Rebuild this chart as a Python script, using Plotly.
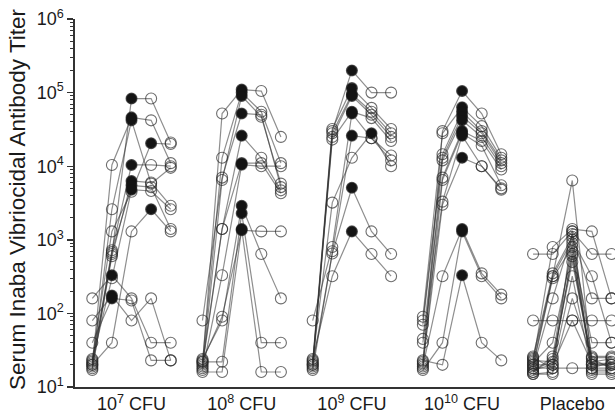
import plotly.graph_objects as go

# ---- data ----
group_labels = ["10<sup>7</sup> CFU", "10<sup>8</sup> CFU", "10<sup>9</sup> CFU",
                "10<sup>10</sup> CFU", "Placebo"]
ytick_vals = [10, 100, 1000, 10000, 100000, 1000000]
ytick_text = ["10<sup>1</sup>", "10<sup>2</sup>", "10<sup>3</sup>",
              "10<sup>4</sup>", "10<sup>5</sup>", "10<sup>6</sup>"]
y_title = "Serum Inaba Vibriocidal Antibody Titer"

# each row: one subject, titers at the 5 sampling times
g_1e7 = [
    [22, 640, 83000, 83000, 21000],
    [20, 10400, 46000, 42000, 11000],
    [19, 2600, 42000, 5800, 9500],
    [21, 720, 10400, 10400, 10000],
    [18, 600, 6300, 6000, 2900],
    [17, 680, 5500, 5200, 1400],
    [23, 300, 4800, 4600, 2600],
    [20, 40, 1300, 2600, 1300],
    [24, 1300, 4500, 20500, 20000],
    [160, 330, 160, 40, 40],
    [80, 175, 80, 160, 23],
    [40, 160, 150, 23, 23],
]
g_1e8 = [
    [20, 52000, 110000, 105000, 25000],
    [22, 13000, 100000, 55000, 11000],
    [18, 6500, 90000, 47000, 5800],
    [80, 7000, 52000, 50000, 5200],
    [21, 1400, 26000, 13000, 4700],
    [19, 1400, 11000, 11000, 4300],
    [17, 330, 10500, 10000, 10000],
    [23, 90, 1350, 1300, 1300],
    [24, 80, 2900, 640, 160],
    [22, 22, 2300, 40, 40],
    [16, 16, 1400, 16, 16],
]
g_1e9 = [
    [20, 30000, 200000, 100000, 100000],
    [22, 32000, 115000, 62000, 32000],
    [18, 28000, 95000, 55000, 28000],
    [21, 25000, 90000, 50000, 25000],
    [19, 23000, 55000, 45000, 22000],
    [80, 800, 52000, 24000, 14000],
    [17, 700, 26000, 24000, 12000],
    [23, 3200, 13000, 28000, 10000],
    [20, 650, 5100, 1300, 640],
    [24, 320, 1300, 640, 320],
]
g_1e10 = [
    [20, 30000, 105000, 52000, 14500],
    [90, 28000, 63000, 35000, 13000],
    [80, 14500, 55000, 30000, 12000],
    [70, 13000, 48000, 28000, 11000],
    [22, 12000, 42000, 25000, 10000],
    [45, 7000, 30000, 22000, 9000],
    [18, 6500, 28000, 19000, 5500],
    [40, 3300, 26000, 10000, 4800],
    [21, 3000, 13000, 10000, 5000],
    [19, 320, 1400, 350, 180],
    [17, 40, 1300, 320, 160],
    [23, 20, 330, 40, 23],
]
g_placebo = [
    [640, 640, 1300, 640, 640],
    [20, 320, 6400, 20, 20],
    [22, 800, 1400, 1300, 160],
    [80, 80, 80, 80, 80],
    [18, 160, 1200, 160, 160],
    [24, 320, 1000, 320, 40],
    [19, 300, 800, 40, 40],
    [21, 40, 700, 20, 20],
    [17, 20, 640, 22, 24],
    [23, 22, 600, 18, 22],
    [16, 24, 500, 24, 18],
    [25, 18, 320, 16, 16],
    [15, 16, 160, 25, 25],
    [18, 18, 18, 18, 18],
    [15, 15, 1300, 15, 15],
    [26, 350, 1100, 26, 26],
    [20, 20, 80, 21, 21],
    [16, 26, 900, 17, 17],
]
groups = [g_1e7, g_1e8, g_1e9, g_1e10, g_placebo]
show_peak = [True, True, True, True, False]

# ---- layout helpers ----
GROUP_STEP = 5.622   # in units of time-point spacing
N_TIMES = 5

fig = go.Figure()
line_col = "rgba(50,50,50,0.55)"
mk_col = "rgba(40,40,40,0.68)"

for gi, subjects in enumerate(groups):
    xs, ys, px, py = [], [], [], []
    for subj in subjects:
        xpos = [gi * GROUP_STEP + d for d in range(N_TIMES)]
        xs += xpos + [None]
        ys += list(subj) + [None]
        k = max(range(N_TIMES), key=lambda i: subj[i])
        px.append(xpos[k])
        py.append(subj[k])
    fig.add_trace(go.Scatter(
        x=xs, y=ys, mode="lines+markers", connectgaps=False,
        line=dict(color=line_col, width=1.2),
        marker=dict(symbol="circle-open", size=11, color=mk_col,
                    line=dict(width=1.1, color=mk_col)),
        hoverinfo="skip", showlegend=False, cliponaxis=False))
    if show_peak[gi]:
        fig.add_trace(go.Scatter(
            x=px, y=py, mode="markers",
            marker=dict(symbol="circle", size=10, color="#141414",
                        line=dict(width=0.8, color="#141414")),
            hoverinfo="skip", showlegend=False, cliponaxis=False))

minor_vals = [m * 10 ** e for e in range(1, 6) for m in range(2, 10)]
axis_col = "#333333"
font_fam = "Liberation Sans, Arial, sans-serif"

fig.update_layout(
    width=615, height=414,
    margin=dict(l=75, r=0, t=19, b=27, autoexpand=False),
    paper_bgcolor="white", plot_bgcolor="white",
    font=dict(family=font_fam, color="#1a1a1a"),
    xaxis=dict(
        range=[-0.883, 26.668], showgrid=False, zeroline=False,
        showline=True, linecolor=axis_col, linewidth=1.6, automargin=False,
        ticks="", tickvals=[gi * GROUP_STEP + 2 for gi in range(5)],
        ticktext=group_labels, tickfont=dict(size=18, color="#1a1a1a"),
        ticklabelstandoff=0,
    ),
    yaxis=dict(
        type="log", range=[1, 6], showgrid=False, zeroline=False,
        showline=True, linecolor=axis_col, linewidth=1.6, automargin=False,
        ticks="outside", ticklen=6, tickwidth=1.4, tickcolor=axis_col,
        tickvals=ytick_vals, ticktext=ytick_text,
        tickfont=dict(size=18, color="#1a1a1a"),
        minor=dict(tickvals=minor_vals, ticks="outside", ticklen=3,
                   tickwidth=1, tickcolor=axis_col, showgrid=False),
    ),
    annotations=[dict(
        text=y_title, textangle=-90, showarrow=False,
        xref="paper", yref="paper", x=0, y=0.5,
        xanchor="center", yanchor="middle", xshift=-58, yshift=4,
        font=dict(size=22.5, color="#1a1a1a"))],
)

fig.write_html("out.html",
               config={"displayModeBar": False, "staticPlot": True},
               post_script="document.body.style.margin='0px';"
                           "document.body.style.overflow='hidden';")
